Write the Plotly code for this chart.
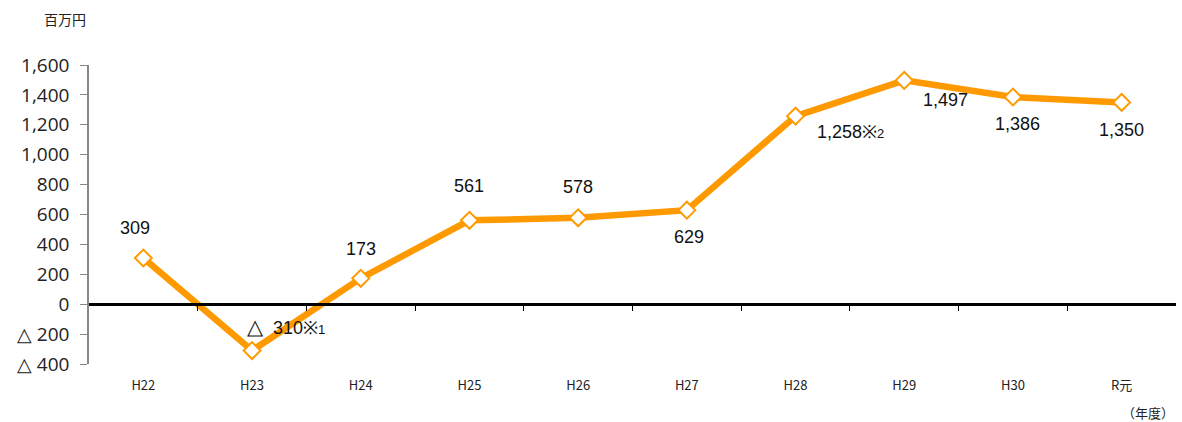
import plotly.graph_objects as go

categories = ["H22", "H23", "H24", "H25", "H26", "H27", "H28", "H29", "H30", "R元"]
values = [309, -310, 173, 561, 578, 629, 1258, 1497, 1386, 1350]
label_texts = ["<span style='font-size:21px'>△</span>  310※<span style='font-size:13px'>1</span>", "173"]
label_texts = ["309", label_texts[0], "173", "561", "578", "629",
               "1,258※<span style='font-size:13px'>2</span>", "1,497", "1,386", "1,350"]
label_xshift = [-8, 34, 0, 0, 0, 2, 55, 41, 5, 0]
label_yshift = [30, 24, 29, 34, 31, -27, -16, -20, -27, -28]
y_tickvals = [-400, -200, 0, 200, 400, 600, 800, 1000, 1200, 1400, 1600]
y_ticktext = ["△ 400", "△ 200", "0", "200", "400", "600", "800", "1,000", "1,200", "1,400", "1,600"]

orange = "#FF9900"
idx = list(range(len(categories)))

fig = go.Figure()
fig.add_trace(go.Scatter(
    x=idx, y=values, mode="lines+markers",
    line=dict(color=orange, width=6.5),
    marker=dict(symbol="diamond", size=13, color="white", line=dict(color=orange, width=2)),
    showlegend=False, hoverinfo="skip"))
# invisible trace on zero-line axis
fig.add_trace(go.Scatter(x=[-0.5, 9.5], y=[0, 0], xaxis="x2", mode="lines",
                         line=dict(width=0), showlegend=False, hoverinfo="skip"))

for i, (v, t, dx, dy) in enumerate(zip(values, label_texts, label_xshift, label_yshift)):
    fig.add_annotation(x=i, y=v, text=t, showarrow=False, xshift=dx, yshift=dy,
                       font=dict(size=18, color="#111", family="Liberation Sans, Arial"))

fig.add_annotation(xref="paper", yref="paper", x=-0.022, y=1.0, yshift=46, xanchor="center", yanchor="middle",
                   text="百万円", showarrow=False,
                   font=dict(size=14, color="#222", family="Noto Sans CJK JP"))
fig.add_annotation(xref="paper", yref="paper", x=1.0, y=0, yshift=-48, xanchor="right", yanchor="middle",
                   text="（年度）", showarrow=False,
                   font=dict(size=13, color="#222", family="Noto Sans CJK JP"))

fig.update_layout(
    width=1182, height=422,
    margin=dict(l=89, r=6, t=65, b=58, autoexpand=False),
    paper_bgcolor="white", plot_bgcolor="white",
    xaxis=dict(range=[-0.5, 9.5], tickvals=idx, ticktext=categories, showline=False, automargin=False,
               showgrid=False, zeroline=False, ticks="", ticklen=0, ticklabelstandoff=12,
               tickfont=dict(size=13, color="#222", family="Noto Sans CJK JP")),
    xaxis2=dict(range=[-0.5, 9.5], overlaying="x", anchor="free", position=0.2, side="bottom",
                automargin=False,
                showline=True, linecolor="black", linewidth=2.5, showgrid=False, zeroline=False,
                tickvals=[i + 0.5 for i in idx[:-1]], ticks="outside", ticklen=5, tickcolor="black",
                tickwidth=1, showticklabels=False),
    yaxis=dict(range=[-400, 1600], tickvals=y_tickvals, ticktext=y_ticktext, showgrid=False,
               automargin=False, ticklabelstandoff=7,
               zeroline=False, showline=True, linecolor="#888", linewidth=1.5,
               ticks="outside", ticklen=7, tickcolor="#888",
               tickfont=dict(size=19, color="#222", family="Open Sans")),
)

fig.write_html("out.html", config={"displayModeBar": False},
               post_script="document.body.style.margin='0px';document.body.style.overflow='hidden';")
